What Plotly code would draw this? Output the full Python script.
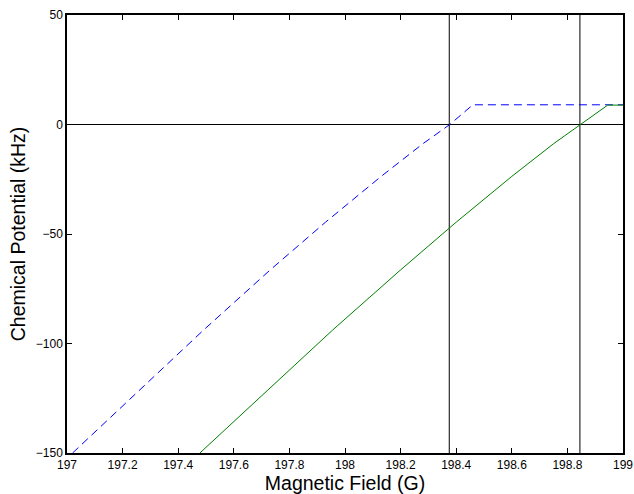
import plotly.graph_objects as go

# Data
blue_x = [197.02, 197.24, 197.49, 197.73, 197.93, 198.13, 198.28, 198.377, 198.46, 199.0]
blue_y = [-150, -124, -94, -66.5, -44.6, -23.7, -8.8, 0.0, 9.0, 9.0]
green_x = [197.478, 197.7, 197.956, 198.2, 198.4, 198.6, 198.75, 198.847, 198.945, 199.0]
green_y = [-150, -123.9, -93.8, -66.4, -44.6, -23.7, -8.8, 0.0, 8.85, 8.85]
vline_x = [198.375, 198.845]
zero_x = [197.0, 199.0]
zero_y = [0, 0]
x_ticks = [197, 197.2, 197.4, 197.6, 197.8, 198, 198.2, 198.4, 198.6, 198.8, 199]
x_ticklabels = ["197", "197.2", "197.4", "197.6", "197.8", "198", "198.2", "198.4", "198.6", "198.8", "199"]
y_ticks = [-150, -100, -50, 0, 50]
y_range = [-150, 50]

fig = go.Figure()
fig.add_trace(go.Scatter(x=zero_x, y=zero_y, mode="lines",
                         line=dict(color="black", width=1), showlegend=False))
for vx in vline_x:
    fig.add_trace(go.Scatter(x=[vx, vx], y=y_range, mode="lines",
                             line=dict(color="black", width=1), showlegend=False))
fig.add_trace(go.Scatter(x=blue_x, y=blue_y, mode="lines",
                         line=dict(color="#0000FF", width=1, dash="8px,5px"), showlegend=False))
fig.add_trace(go.Scatter(x=green_x, y=green_y, mode="lines",
                         line=dict(color="#008000", width=1), showlegend=False))

font_family = "Liberation Sans, Arial, sans-serif"
fig.update_layout(
    width=634, height=494,
    margin=dict(l=67, r=11, t=14.5, b=41),
    paper_bgcolor="white", plot_bgcolor="white",
    font=dict(family=font_family, color="black", size=12),
    xaxis=dict(range=[197, 199], tickvals=x_ticks, ticktext=x_ticklabels,
               showgrid=False, zeroline=False, showline=True, linecolor="black",
               linewidth=1.5, mirror="allticks", ticks="inside", ticklen=5,
               tickcolor="black", tickfont=dict(size=12), automargin=False,
               title=dict(text="Magnetic Field (G)", font=dict(size=19.5), standoff=0)),
    yaxis=dict(range=y_range, tickvals=y_ticks,
               showgrid=False, zeroline=False, showline=True, linecolor="black",
               linewidth=1.5, mirror="allticks", ticks="inside", ticklen=5,
               tickcolor="black", tickfont=dict(size=12), automargin=False,
               title=dict(text="Chemical Potential (kHz)", font=dict(size=19.5), standoff=5)),
)
fig.write_html("out.html")
